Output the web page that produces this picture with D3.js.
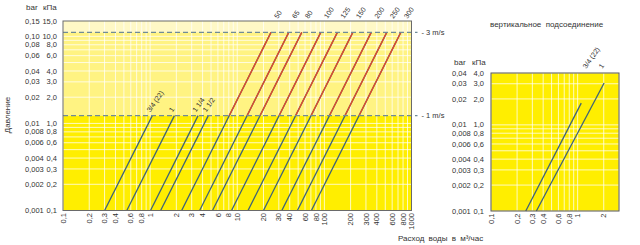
<!DOCTYPE html>
<html><head><meta charset="utf-8">
<script src="https://cdn.jsdelivr.net/npm/d3@7"></script>
<style>
html,body{margin:0;padding:0;background:#fff;}
svg{display:block;font-family:"Liberation Sans Narrow","Liberation Sans",Arial,sans-serif;}
</style></head>
<body>
<svg id="c" width="640" height="245"></svg>
<script>
// ---------- data ----------
const xTicks = [0.1,0.2,0.3,0.4,0.6,0.8,1,2,3,4,6,8,10,20,30,40,60,80,100,200,300,400,600,800,1000];
const xTickLabels = ["0,1","0,2","0,3","0,4","0,6","0,8","1","2","3","4","6","8","10","20","30","40","60","80","100","200","300","400","600","800","1000"];
const yTicks = [15,10,8,6,4,3,2,1,0.8,0.6,0.4,0.3,0.2,0.1];
const yLabelsBar = ["0,15","0,10","0,08","0,06","0,04","0,03","0,02","0,01","0,008","0,006","0,004","0,003","0,002","0,001"];
const yLabelsKPa = ["15,0","10,0","8,0","6,0","4,0","3,0","2,0","1,0","0,8","0,6","0,4","0,3","0,2","0,1"];

const velocityNames = ["1 m/s","3 m/s"];
const velocityKPa = [1.23, 11.1];

const sizes = ["3/4 (22)","1","1 1/4","1 1/2","50","65","80","100","125","150","200","250","300"];
const flowAtMin = [0.30,0.54,1.01,1.32,2.30,3.7,5.2,8.6,13.3,20,32.5,49,71];      // m³/h at 0,1 kPa
const flowAtEnd = [1.06,1.9,3.55,4.65,24.4,39,55,91,141,212,345,520,754];        // m³/h at end of line
const pressureAtEnd = [1.23,1.23,1.23,1.23,11.1,11.1,11.1,11.1,11.1,11.1,11.1,11.1,11.1]; // kPa
const pressureMin = 0.1;

// vertical connection chart
const vTitle = "вертикальное  подсоединение";
const vxTicks = [0.1,0.2,0.3,0.4,0.6,0.8,1,2];
const vxTickLabels = ["0,1","0,2","0,3","0,4","0,6","0,8","1","2"];
const vyTicks = [4,3,2,1,0.8,0.6,0.4,0.3,0.2,0.1];
const vyLabelsBar = ["0,04","0,03","0,02","0,01","0,008","0,006","0,004","0,003","0,002","0,001"];
const vyLabelsKPa = ["4,0","3,0","2,0","1,0","0,8","0,6","0,4","0,3","0,2","0,1"];
const vSizes = ["3/4 (22)","1"];
const vFlowAtMin = [0.252,0.334];
const vFlowAtEnd = [1.10,2.02];
const vPressureAtEnd = [1.79,3.06];

// ---------- styles ----------
const BLUE = "#3e6376", RED = "#e24a2a", DASH = "#6f8b98";
const svg = d3.select("#c");

// ---------- main chart ----------
const x = d3.scaleLog().domain([0.1,1000]).range([63,411.5]);
const y = d3.scaleLog().domain([0.1,15]).range([210.5,21]);
const [x0,x1] = x.range(), [yb,yt] = y.range();

const g = svg.append("g");
// bands
g.append("rect").attr("x",x0).attr("y",yt).attr("width",x1-x0).attr("height",y(velocityKPa[1])-yt).attr("fill","#fff8c6");
g.append("rect").attr("x",x0).attr("y",y(velocityKPa[1])).attr("width",x1-x0).attr("height",y(velocityKPa[0])-y(velocityKPa[1])).attr("fill","#fff382");
g.append("rect").attr("x",x0).attr("y",y(velocityKPa[0])).attr("width",x1-x0).attr("height",yb-y(velocityKPa[0])).attr("fill","#ffee00");

// grid
g.append("g").selectAll("line").data(x.ticks()).join("line")
  .attr("x1",d=>x(d)).attr("x2",d=>x(d)).attr("y1",yt).attr("y2",yb)
  .attr("stroke","#fff").attr("stroke-opacity",0.75).attr("stroke-width",1);
g.append("g").selectAll("line").data(y.ticks().filter(d=>d<15)).join("line")
  .attr("y1",d=>y(d)).attr("y2",d=>y(d)).attr("x1",x0).attr("x2",x1)
  .attr("stroke","#fff").attr("stroke-opacity",0.75).attr("stroke-width",1);

// lines
const line = d3.line().x(d=>x(d[0])).y(d=>y(d[1]));
const series = sizes.map((s,i)=>({name:s, pts:[[flowAtMin[i],pressureMin],[flowAtEnd[i],pressureAtEnd[i]]], end:pressureAtEnd[i]}));
svg.append("clipPath").attr("id","above1").append("rect")
  .attr("x",x0).attr("y",yt).attr("width",x1-x0).attr("height",y(velocityKPa[0])-yt);
g.append("g").selectAll("path").data(series).join("path")
  .attr("d",d=>line(d.pts)).attr("fill","none").attr("stroke",BLUE).attr("stroke-width",1.3);
g.append("g").attr("clip-path","url(#above1)").selectAll("path").data(series.filter(d=>d.end>velocityKPa[0])).join("path")
  .attr("d",d=>line(d.pts)).attr("fill","none").attr("stroke",RED).attr("stroke-width",1.3);

// velocity dashed lines
velocityKPa.forEach((p,i)=>{
  g.append("line").attr("x1",x0).attr("x2",x1+6).attr("y1",y(p)).attr("y2",y(p))
    .attr("stroke",DASH).attr("stroke-width",1.3).attr("stroke-dasharray","5,3");
  g.append("text").attr("x",x1+10).attr("y",y(p)).attr("dy","0.35em")
    .attr("font-size",7.5).attr("fill","#333").text("- "+velocityNames[i]);
});

// border
g.append("rect").attr("x",x0).attr("y",yt).attr("width",x1-x0).attr("height",yb-yt)
  .attr("fill","none").attr("stroke","#6a6a6a").attr("stroke-width",1);

// series labels
series.forEach(d=>{
  let lx, ly;
  if (d.end > velocityKPa[0]) {
    // extend to top of plot
    const f = d.pts[1][0]*Math.sqrt(15/d.end);
    lx = x(f)+1; ly = yt-2;
  } else {
    lx = x(d.pts[1][0])-2; ly = y(d.end)-3;
  }
  g.append("text").attr("transform",`translate(${lx},${ly}) rotate(-55)`)
    .attr("font-size",7).attr("fill","#333").text(d.name);
});

// x ticks
g.append("g").selectAll("text").data(xTicks).join("text")
  .attr("transform",(d)=>`translate(${x(d)},${yb+2.5}) rotate(-90)`)
  .attr("text-anchor","end").attr("dy","0.35em").attr("font-size",7.5).attr("fill","#333")
  .text((d,i)=>xTickLabels[i]);

// y ticks
g.append("g").selectAll("text").data(yTicks).join("text")
  .attr("x",25).attr("y",d=>y(d)).attr("dy","0.35em").attr("font-size",7.5).attr("fill","#333")
  .text((d,i)=>yLabelsBar[i]);
g.append("g").selectAll("text").data(yTicks).join("text")
  .attr("x",57).attr("y",d=>y(d)).attr("dy","0.35em").attr("text-anchor","end").attr("font-size",7.5).attr("fill","#333")
  .text((d,i)=>yLabelsKPa[i]);
g.append("text").attr("x",26).attr("y",10).attr("font-size",8).attr("fill","#333").text("bar");
g.append("text").attr("x",43).attr("y",10).attr("font-size",8).attr("fill","#333").text("кПа");
g.append("text").attr("transform","translate(10,115) rotate(-90)").attr("text-anchor","middle")
  .attr("font-size",8).attr("fill","#333").text("Давление");
g.append("text").attr("x",398).attr("y",241).attr("font-size",8).attr("word-spacing","2px").attr("fill","#333")
  .text("Расход воды в м³/час");

// ---------- vertical connection chart ----------
const vx = d3.scaleLog().domain([0.1,3]).range([491,619]);
const vy = d3.scaleLog().domain([0.1,4]).range([211,73]);
const [vx0,vx1] = vx.range(), [vyb,vyt] = vy.range();
const h = svg.append("g");
h.append("rect").attr("x",vx0).attr("y",vyt).attr("width",vx1-vx0).attr("height",vyb-vyt).attr("fill","#ffee00");
h.append("g").selectAll("line").data(vx.ticks()).join("line")
  .attr("x1",d=>vx(d)).attr("x2",d=>vx(d)).attr("y1",vyt).attr("y2",vyb)
  .attr("stroke","#fff").attr("stroke-opacity",0.75);
h.append("g").selectAll("line").data(vy.ticks()).join("line")
  .attr("y1",d=>vy(d)).attr("y2",d=>vy(d)).attr("x1",vx0).attr("x2",vx1)
  .attr("stroke","#fff").attr("stroke-opacity",0.75);
const vline = d3.line().x(d=>vx(d[0])).y(d=>vy(d[1]));
const vseries = vSizes.map((s,i)=>({name:s, pts:[[vFlowAtMin[i],pressureMin],[vFlowAtEnd[i],vPressureAtEnd[i]]]}));
h.append("g").selectAll("path").data(vseries).join("path")
  .attr("d",d=>vline(d.pts)).attr("fill","none").attr("stroke",BLUE).attr("stroke-width",1.3);
h.append("rect").attr("x",vx0).attr("y",vyt).attr("width",vx1-vx0).attr("height",vyb-vyt)
  .attr("fill","none").attr("stroke","#555").attr("stroke-width",1);
vseries.forEach((d,i)=>{
  const f = d.pts[1][0]*Math.sqrt(4/d.pts[1][1]);
  h.append("text").attr("transform",`translate(${vx(f)-10+ i*3},${vyt-4}) rotate(-55)`)
    .attr("font-size",7).attr("fill","#333").text(d.name);
});
h.append("g").selectAll("text").data(vxTicks).join("text")
  .attr("transform",d=>`translate(${vx(d)},${vyb+2.5}) rotate(-90)`)
  .attr("text-anchor","end").attr("dy","0.35em").attr("font-size",7.5).attr("fill","#333")
  .text((d,i)=>vxTickLabels[i]);
h.append("g").selectAll("text").data(vyTicks).join("text")
  .attr("x",452).attr("y",d=>vy(d)).attr("dy","0.35em").attr("font-size",7.5).attr("fill","#333")
  .text((d,i)=>vyLabelsBar[i]);
h.append("g").selectAll("text").data(vyTicks).join("text")
  .attr("x",484).attr("y",d=>vy(d)).attr("dy","0.35em").attr("text-anchor","end").attr("font-size",7.5).attr("fill","#333")
  .text((d,i)=>vyLabelsKPa[i]);
h.append("text").attr("x",454).attr("y",65).attr("font-size",8).attr("fill","#333").text("bar");
h.append("text").attr("x",472).attr("y",65).attr("font-size",8).attr("fill","#333").text("кПа");
h.append("text").attr("x",490).attr("y",27).attr("font-size",8).attr("fill","#333").attr("xml:space","preserve").style("white-space","pre").text(vTitle);
</script>
</body></html>
